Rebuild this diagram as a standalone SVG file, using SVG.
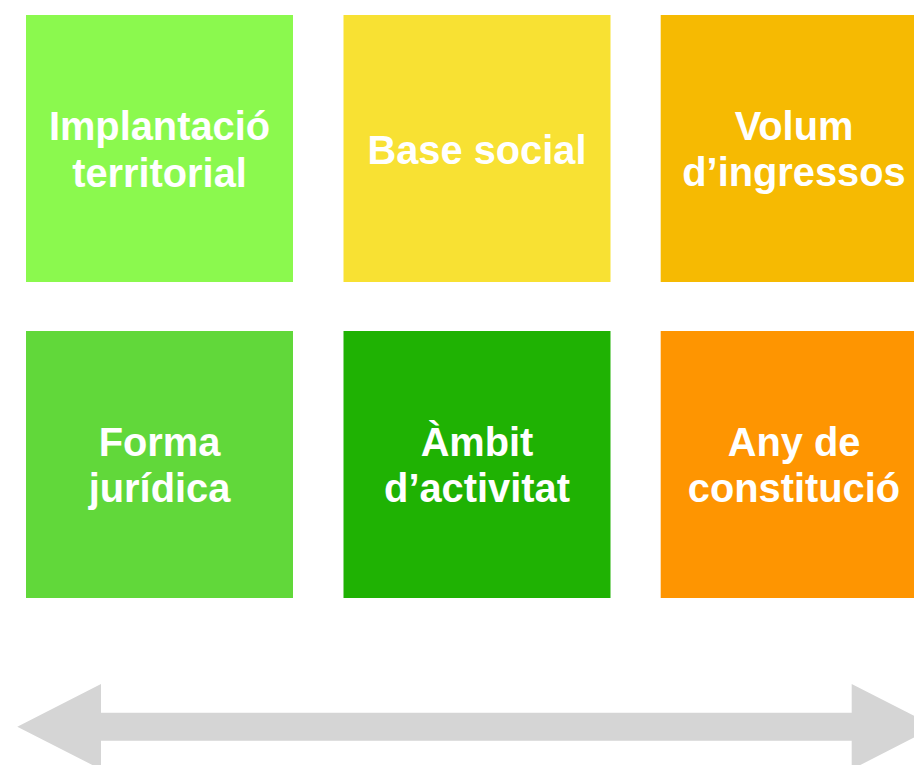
<svg xmlns="http://www.w3.org/2000/svg" width="914" height="765" viewBox="0 0 914 765">
<style>
.t{font-family:"Liberation Sans",Arial,sans-serif;font-weight:bold;font-size:39.8px;fill:#ffffff;text-anchor:middle}
</style>
<rect width="914" height="765" fill="#ffffff"/>
<g id="n1"><rect x="26" y="15" width="267" height="267" fill="#8BF94E"/><text class="t" x="159.5" y="140">Implantació</text><text class="t" x="159.5" y="187">territorial</text></g>
<g id="n2"><rect x="343.5" y="15" width="267" height="267" fill="#F8E133"/><text class="t" x="477" y="163.5">Base social</text></g>
<g id="n3"><rect x="660.7" y="15" width="267" height="267" fill="#F6BA02"/><text class="t" x="794" y="140">Volum</text><text class="t" x="794" y="186">d’ingressos</text></g>
<g id="n4"><rect x="26" y="331" width="267" height="267" fill="#61D83A"/><text class="t" x="159.5" y="456">Forma</text><text class="t" x="159.5" y="502">jurídica</text></g>
<g id="n5"><rect x="343.5" y="331" width="267" height="267" fill="#1FB203"/><text class="t" x="477" y="456">Àmbit</text><text class="t" x="477" y="502">d’activitat</text></g>
<g id="n6"><rect x="660.7" y="331" width="267" height="267" fill="#FE9501"/><text class="t" x="794" y="456">Any de</text><text class="t" x="794" y="502">constitució</text></g>
<g id="connectors"><polygon fill="#D5D5D5" points="17.3,726.7 101,684 101,712.7 851.7,712.7 851.7,684 935.4,726.7 851.7,769.4 851.7,740.7 101,740.7 101,769.4"/></g>
</svg>
